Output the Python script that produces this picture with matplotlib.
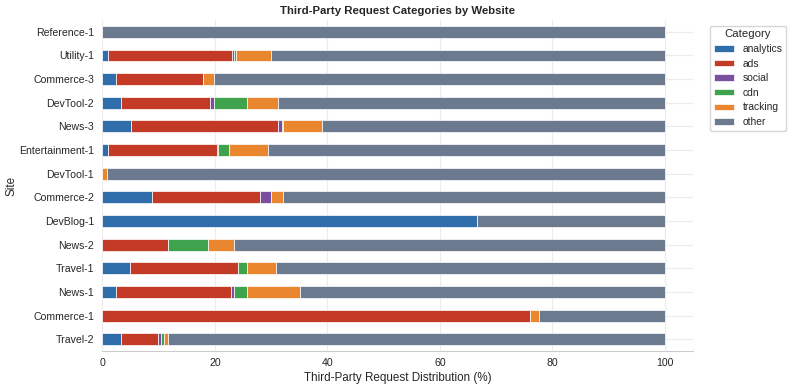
import numpy as np
import matplotlib.pyplot as plt
import seaborn as sns

# sites, listed top to bottom as in the chart
sites = ['Reference-1', 'Utility-1', 'Commerce-3', 'DevTool-2', 'News-3',
         'Entertainment-1', 'DevTool-1', 'Commerce-2', 'DevBlog-1', 'News-2',
         'Travel-1', 'News-1', 'Commerce-1', 'Travel-2']

# share of third-party requests per category (%), other = remainder
analytics = [0.0, 1.0, 2.4, 3.3, 5.1, 1.0, 0.0, 8.8, 66.6, 0.0, 4.9, 2.5, 0.0, 3.3]
ads       = [0.0, 22.1, 15.5, 15.8, 26.2, 19.3, 0.0, 19.2, 0.0, 11.7, 19.2, 20.3, 76.0, 6.6]
social    = [0.0, 0.3, 0.0, 0.8, 0.7, 0.3, 0.0, 2.0, 0.0, 0.0, 0.0, 0.6, 0.0, 0.5]
cdn       = [0.0, 0.3, 0.0, 5.9, 0.1, 1.9, 0.0, 0.0, 0.0, 7.0, 1.6, 2.3, 0.0, 0.5]
tracking  = [0.0, 6.3, 1.9, 5.5, 7.0, 6.9, 0.8, 2.2, 0.0, 4.7, 5.1, 9.4, 1.6, 0.8]
other = list(100 - np.array(analytics) - np.array(ads) - np.array(social)
             - np.array(cdn) - np.array(tracking))

categories = ['analytics', 'ads', 'social', 'cdn', 'tracking', 'other']
colors = ['#2F6EAB', '#C33B26', '#7B4FA0', '#3FA34D', '#EA872E', '#6B7A8F']

sns.set_style('whitegrid')
plt.rcParams['font.family'] = ['Liberation Sans', 'DejaVu Sans']

fig, ax = plt.subplots(figsize=(7.93, 3.91), dpi=100)
fig.subplots_adjust(left=0.129, right=0.874, top=0.949, bottom=0.102)

y = np.arange(len(sites))
left = np.zeros(len(sites))
for name, vals, c in zip(categories, [analytics, ads, social, cdn, tracking, other], colors):
    ax.barh(y, vals, left=left, height=0.5, color=c, edgecolor='white',
            linewidth=0.5, label=name)
    left += np.array(vals)

ax.set_yticks(y)
ax.set_yticklabels(sites, fontsize=7.6)
ax.set_ylim(len(sites) - 0.5, -0.5)
ax.set_xlim(0, 105)
ax.set_xticks([0, 20, 40, 60, 80, 100])
ax.tick_params(axis='x', labelsize=7.6, pad=5)
ax.tick_params(axis='y', pad=6)
ax.tick_params(axis='both', length=0)
ax.grid(color='#EBEBEB', linewidth=0.8)
ax.set_axisbelow(True)

ax.set_xlabel('Third-Party Request Distribution (%)', fontsize=8.4, labelpad=3)
ax.set_ylabel('Site', fontsize=8.4, labelpad=1)
ax.set_title('Third-Party Request Categories by Website', fontsize=8.2,
             fontweight='bold', pad=4)

for s in ['top', 'right', 'left']:
    ax.spines[s].set_visible(False)
ax.spines['bottom'].set_color('#CCCCCC')

ax.legend(title='Category', loc='upper left', bbox_to_anchor=(1.02, 0.998),
          fontsize=7.4, title_fontsize=8.2, frameon=True, handlelength=2.0,
          handleheight=0.6, labelspacing=0.45, borderpad=0.35,
          handletextpad=0.8)

plt.savefig('out.png', dpi=100)
